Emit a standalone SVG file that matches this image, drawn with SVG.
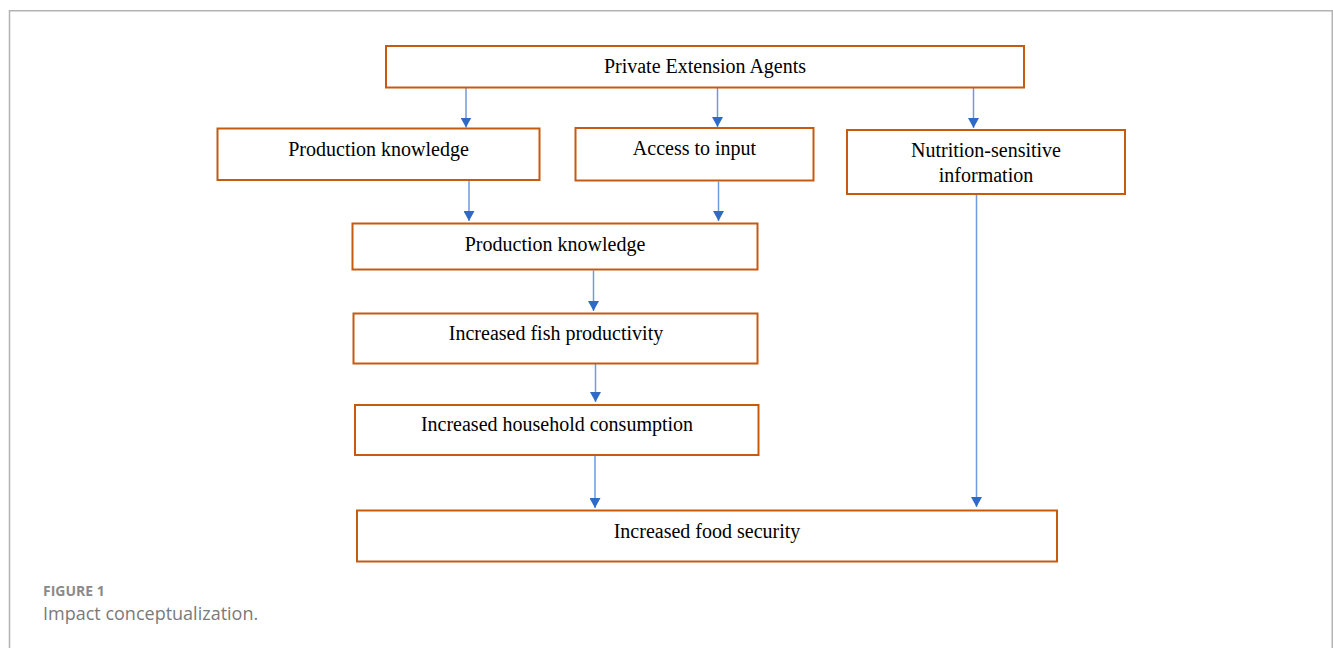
<svg xmlns="http://www.w3.org/2000/svg" width="1333" height="648" viewBox="0 0 1333 648">
  <style>
    .box { fill: #ffffff; stroke: #C55A11; stroke-width: 2; }
    .lbl { font-family: "Liberation Serif", "Times New Roman", serif; font-size: 20px; fill: #000000; text-anchor: middle; }
    .conn { stroke: #6C9BDE; stroke-width: 1.5; fill: none; marker-end: url(#arrow); }
    .cap1 { font-family: "Open Sans", "Liberation Sans", sans-serif; font-size: 14px; font-weight: bold; fill: #8a8a8a; }
    .cap2 { font-family: "Open Sans", "Liberation Sans", sans-serif; font-size: 18px; fill: #7a7a7a; }
  </style>
  <defs>
    <marker id="arrow" viewBox="0 0 10 11" refX="10" refY="5.5" markerWidth="10" markerHeight="11" markerUnits="userSpaceOnUse" orient="auto">
      <path d="M0,0 L10,5.5 L0,11 z" fill="#2F6BC6"/>
    </marker>
  </defs>
  <rect x="0" y="0" width="1333" height="648" fill="#ffffff"/>
  <path d="M9.5,660 V10.75 H1332.25 V660" fill="none" stroke="#b3b3b3" stroke-width="1.5"/>

  <g id="connectors">
    <line class="conn" x1="466" y1="88" x2="466" y2="127.5"/>
    <line class="conn" x1="717.5" y1="88" x2="717.5" y2="127"/>
    <line class="conn" x1="973.5" y1="88" x2="973.5" y2="128"/>
    <line class="conn" x1="469" y1="181" x2="469" y2="221"/>
    <line class="conn" x1="718.5" y1="181.5" x2="718.5" y2="221"/>
    <line class="conn" x1="593.5" y1="270.5" x2="593.5" y2="311"/>
    <line class="conn" x1="595.5" y1="364" x2="595.5" y2="402"/>
    <line class="conn" x1="595" y1="456" x2="595" y2="508"/>
    <line class="conn" x1="976.5" y1="194.5" x2="976.5" y2="507"/>
  </g>

  <g id="private-extension-agents">
    <rect class="box" x="386" y="46" width="638" height="41.5"/>
    <text class="lbl" x="705" y="73">Private Extension Agents</text>
  </g>
  <g id="production-knowledge-1">
    <rect class="box" x="217.5" y="128.5" width="322" height="51.5"/>
    <text class="lbl" x="378.5" y="156">Production knowledge</text>
  </g>
  <g id="access-to-input">
    <rect class="box" x="575.5" y="128" width="238" height="52.5"/>
    <text class="lbl" x="694.5" y="155">Access to input</text>
  </g>
  <g id="nutrition-sensitive-information">
    <rect class="box" x="847" y="130" width="278" height="64"/>
    <text class="lbl" x="986" y="157">Nutrition-sensitive</text>
    <text class="lbl" x="986" y="182">information</text>
  </g>
  <g id="production-knowledge-2">
    <rect class="box" x="352.5" y="223.5" width="405" height="46"/>
    <text class="lbl" x="555" y="251">Production knowledge</text>
  </g>
  <g id="increased-fish-productivity">
    <rect class="box" x="353.5" y="313.5" width="404" height="50"/>
    <text class="lbl" x="556" y="340">Increased fish productivity</text>
  </g>
  <g id="increased-household-consumption">
    <rect class="box" x="355" y="405" width="403.5" height="50"/>
    <text class="lbl" x="557" y="431">Increased household consumption</text>
  </g>
  <g id="increased-food-security">
    <rect class="box" x="357" y="510.5" width="700" height="51"/>
    <text class="lbl" x="707" y="538">Increased food security</text>
  </g>

  <text class="cap1" x="43" y="596">FIGURE 1</text>
  <text class="cap2" x="43" y="620">Impact conceptualization.</text>
</svg>
